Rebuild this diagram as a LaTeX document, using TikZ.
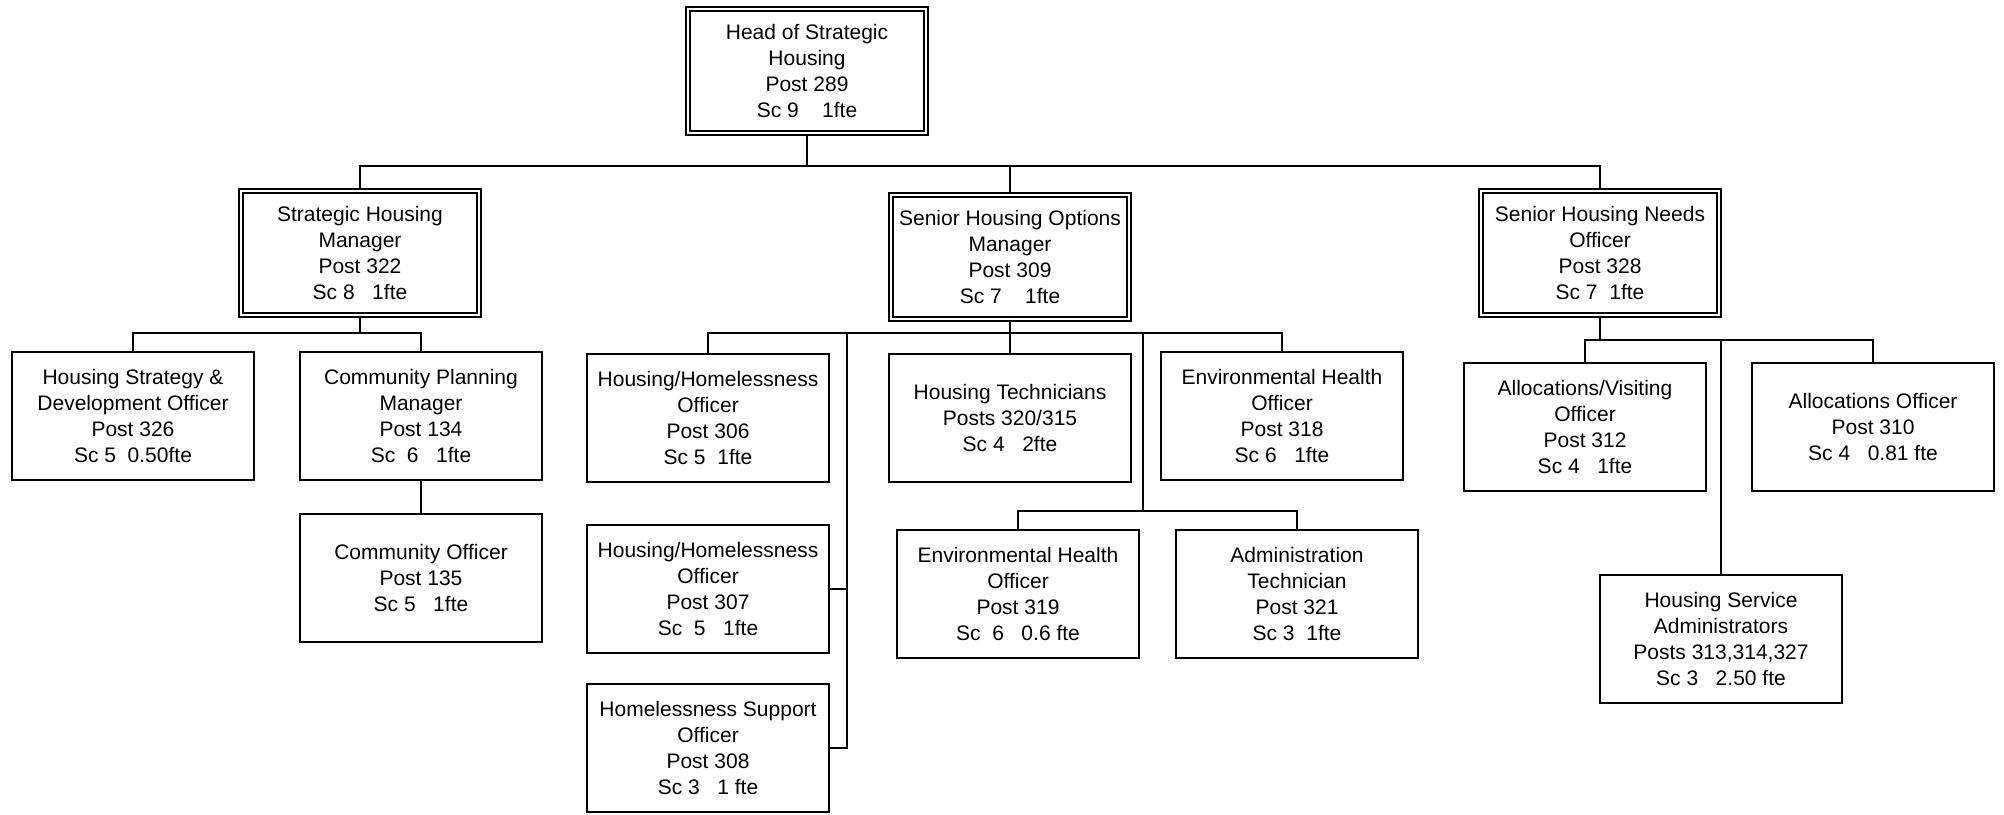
\documentclass[tikz,border=0pt]{standalone}
\usepackage{fontspec}
\setmainfont{Liberation Sans}
\begin{document}
\begin{tikzpicture}[x=1pt,y=-1pt,
  post/.style={draw=black, line width=2pt, fill=white, inner sep=0pt,
    minimum width=242pt, minimum height=128pt, align=center,
    font=\fontsize{21}{25.8}\selectfont},
  lead/.style={post, line width=1.4pt, double=white, double distance=2.4pt,
    minimum width=238pt, minimum height=124pt},
  wire/.style={draw=black, line width=2pt}]
\useasboundingbox (0,0) rectangle (2004,814);

% managers
\node[lead] (head) at (807,71) {Head of Strategic\\Housing\\Post 289\\Sc 9~~~~1fte};
\node[lead] (shm)  at (360,253) {Strategic Housing\\Manager\\Post 322\\Sc 8~~~1fte};
\node[lead] (shom) at (1010,257) {Senior Housing Options\\Manager\\Post 309\\Sc 7~~~~1fte};
\node[lead] (shno) at (1600,253) {Senior Housing Needs\\Officer\\Post 328\\Sc 7~~1fte};

% strategic housing team
\node[post] (hsdo) at (133,416) {Housing Strategy \&\\Development Officer\\Post 326\\Sc 5~~0.50fte};
\node[post] (cpm)  at (421,416) {Community Planning\\Manager\\Post 134\\Sc~~6~~~1fte};
\node[post] (co)   at (421,578) {Community Officer\\Post 135\\Sc 5~~~1fte};

% housing options team
\node[post] (hho306) at (708,418) {Housing/Homelessness\\Officer\\Post 306\\Sc 5~~1fte};
\node[post] (hho307) at (708,589) {Housing/Homelessness\\Officer\\Post 307\\Sc~~5~~~1fte};
\node[post] (hso308) at (708,748) {Homelessness Support\\Officer\\Post 308\\Sc 3~~~1 fte};
\node[post] (ht)     at (1010,418) {Housing Technicians\\Posts 320/315\\Sc 4~~~2fte};
\node[post] (eho318) at (1282,416) {Environmental Health\\Officer\\Post 318\\Sc 6~~~1fte};
\node[post] (eho319) at (1018,594) {Environmental Health\\Officer\\Post 319\\Sc~~6~~~0.6 fte};
\node[post] (at)     at (1297,594) {Administration\\Technician\\Post 321\\Sc 3~~1fte};

% housing needs team
\node[post] (avo) at (1585,427) {Allocations/Visiting\\Officer\\Post 312\\Sc 4~~~1fte};
\node[post] (ao)  at (1873,427) {Allocations Officer\\Post 310\\Sc 4~~~0.81 fte};
\node[post] (hsa) at (1721,639) {Housing Service\\Administrators\\Posts 313,314,327\\Sc 3~~~2.50 fte};

% bus junctions
\coordinate (busTop) at (807,166);
\coordinate (busL) at (360,333);
\coordinate (busM) at (1010,333);
\coordinate (spineA) at (847,333);
\coordinate (spineB) at (1143,511);
\coordinate (busR) at (1600,340);

% head to managers
\draw[wire] (head.south) -- (busTop);
\draw[wire] (shm.north) |- (shno.north |- busTop) -- (shno.north);
\draw[wire] (shom.north) -- (shom.north |- busTop);

% strategic housing branch
\draw[wire] (shm.south) -- (busL);
\draw[wire] (hsdo.north) |- (busL) -| (cpm.north);
\draw[wire] (cpm.south) -- (co.north);

% housing options branch
\draw[wire] (shom.south) -- (ht.north);
\draw[wire] (hho306.north) |- (busM) -| (eho318.north);
\draw[wire] (spineA) |- (hso308.east);
\draw[wire] (hho307.east) -- (hho307.east -| spineA);
\draw[wire] (spineB) -- (spineB |- busM);
\draw[wire] (eho319.north) |- (spineB) -| (at.north);

% housing needs branch
\draw[wire] (shno.south) -- (busR);
\draw[wire] (avo.north) |- (busR) -| (ao.north);
\draw[wire] (hsa.north) -- (hsa.north |- busR);
\end{tikzpicture}
\end{document}
